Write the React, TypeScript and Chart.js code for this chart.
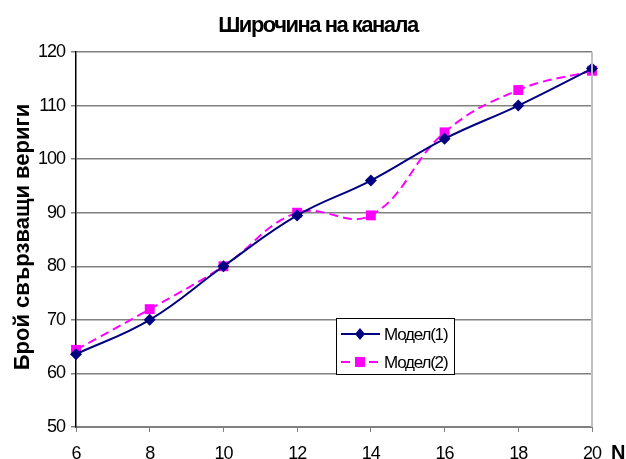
import React, { useEffect, useRef } from 'react';
import { Chart, registerables } from 'chart.js';
Chart.register(...registerables);

const xValues = [6, 8, 10, 12, 14, 16, 18, 20];
const model1 = [63.6, 70, 80, 89.5, 96, 103.8, 110, 116.9];
const model2 = [64.4, 72, 80, 90, 89.5, 105, 112.9, 116.5];
const seriesNames = ['Модел(1)', 'Модел(2)'];
const titleText = 'Широчина на канала';
const yTitleText = 'Брой свързващи вериги';
const xTitleText = 'N';

const FONT = '"Liberation Sans", Arial, sans-serif';
const NAVY = '#000080';
const MAGENTA = '#FF00FF';

const spacing = {
  id: 'spacing',
  beforeUpdate(chart: any) {
    (chart.ctx as any).letterSpacing = '-1px';
  },
  beforeDraw(chart: any) {
    (chart.ctx as any).letterSpacing = '-1px';
  },
};

const overlay = {
  id: 'overlay',
  afterDraw(chart: any) {
    const ctx = chart.ctx as CanvasRenderingContext2D;
    const ca = chart.chartArea;
    ctx.save();
    ctx.strokeStyle = '#c0c0c0';
    ctx.lineWidth = 2;
    ctx.beginPath();
    ctx.moveTo(ca.right, ca.top);
    ctx.lineTo(ca.right, ca.bottom);
    ctx.stroke();

    ctx.fillStyle = '#000';
    (ctx as any).letterSpacing = '-1.5px';
    ctx.font = `bold 22px ${FONT}`;
    ctx.textAlign = 'center';
    ctx.textBaseline = 'middle';
    ctx.fillText(titleText, 318, 26);

    (ctx as any).letterSpacing = '0px';
    ctx.save();
    ctx.translate(23, 237);
    ctx.rotate(-Math.PI / 2);
    ctx.font = `bold 22px ${FONT}`;
    ctx.fillText(yTitleText, 0, 0);
    ctx.restore();

    ctx.font = `bold 20px ${FONT}`;
    ctx.textAlign = 'left';
    ctx.fillText(xTitleText, 611, 453);

    // legend
    const lx = 336, ly = 318, lw = 118, lh = 56;
    ctx.fillStyle = '#fff';
    ctx.fillRect(lx, ly, lw, lh);
    ctx.strokeStyle = '#000';
    ctx.lineWidth = 1;
    ctx.strokeRect(lx + 0.5, ly + 0.5, lw, lh);
    const rows = [
      { y: 334, color: NAVY, dash: [] as number[], marker: 'diamond', name: seriesNames[0] },
      { y: 362, color: MAGENTA, dash: [9, 5], marker: 'square', name: seriesNames[1] },
    ];
    rows.forEach((r) => {
      ctx.strokeStyle = r.color;
      ctx.lineWidth = 2;
      ctx.setLineDash(r.dash);
      ctx.beginPath();
      ctx.moveTo(341, r.y);
      ctx.lineTo(380, r.y);
      ctx.stroke();
      ctx.setLineDash([]);
      ctx.fillStyle = r.color;
      if (r.marker === 'diamond') {
        ctx.beginPath();
        ctx.moveTo(360, r.y - 6);
        ctx.lineTo(365, r.y);
        ctx.lineTo(360, r.y + 6);
        ctx.lineTo(355, r.y);
        ctx.closePath();
        ctx.fill();
      } else {
        ctx.fillRect(355, r.y - 5, 10, 10);
      }
      ctx.fillStyle = '#000';
      (ctx as any).letterSpacing = '-1.2px';
      ctx.font = `17px ${FONT}`;
      ctx.textAlign = 'left';
      ctx.textBaseline = 'middle';
      ctx.fillText(r.name, 384, r.y + 1);
    });
    ctx.restore();
  },
};

export default function App() {
  const ref = useRef<HTMLCanvasElement>(null);
  useEffect(() => {
    document.body.style.margin = '0';
    const canvas = ref.current!;
    const chart = new Chart(canvas, {
      type: 'line',
      data: {
        datasets: [
          {
            label: seriesNames[0],
            data: xValues.map((x, i) => ({ x, y: model1[i] })),
            borderColor: NAVY,
            backgroundColor: NAVY,
            borderWidth: 2,
            pointStyle: 'rectRot',
            pointRadius: 6,
            pointBorderWidth: 0,
            tension: 0.4,
            clip: false,
          },
          {
            label: seriesNames[1],
            data: xValues.map((x, i) => ({ x, y: model2[i] })),
            borderColor: MAGENTA,
            backgroundColor: MAGENTA,
            borderWidth: 2,
            borderDash: [9, 5],
            pointStyle: 'rect',
            pointRadius: 7,
            pointBorderWidth: 0,
            tension: 0.4,
            clip: false,
          },
        ],
      },
      options: {
        responsive: false,
        animation: false,
        layout: { padding: { left: 0, top: 52, right: 34, bottom: 0 } },
        plugins: { legend: { display: false }, title: { display: false }, tooltip: { enabled: false } },
        scales: {
          x: {
            type: 'linear',
            min: 6,
            max: 20,
            afterFit: (s: any) => { s.height = 32; },
            ticks: { stepSize: 2, color: '#000', font: { family: FONT, size: 18 }, padding: 11, maxRotation: 0 },
            grid: { drawOnChartArea: false, drawTicks: true, tickLength: 5, color: '#808080', lineWidth: 1 },
            border: { color: '#808080', width: 2 },
          },
          y: {
            min: 50,
            max: 120,
            afterFit: (s: any) => { s.width = 76; },
            ticks: { stepSize: 10, color: '#000', font: { family: FONT, size: 18 }, padding: 6 },
            grid: { color: '#808080', lineWidth: 1.5, tickLength: 5 },
            border: { color: '#000', width: 1.5 },
          },
        },
      },
      plugins: [spacing, overlay],
    });
    return () => chart.destroy();
  }, []);
  return <canvas ref={ref} width={626} height={459} style={{ display: 'block', width: 626, height: 459 }} />;
}
